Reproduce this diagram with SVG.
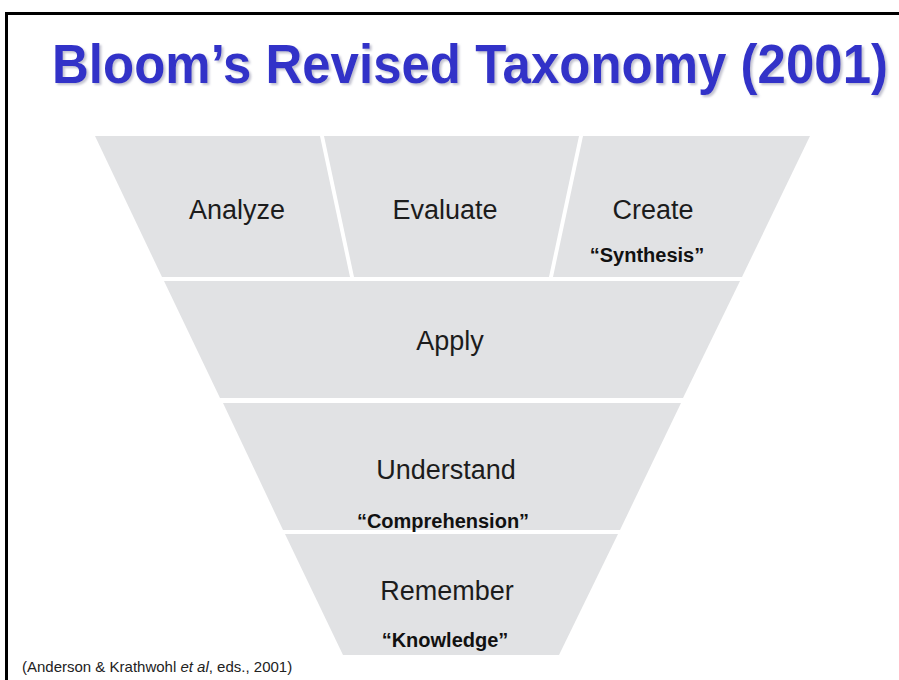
<svg xmlns="http://www.w3.org/2000/svg" width="899" height="680" viewBox="0 0 899 680">
<defs>
<filter id="shadow" x="-5%" y="-20%" width="110%" height="150%">
<feDropShadow dx="2" dy="2" stdDeviation="1" flood-color="#9a9ab0" flood-opacity="0.6"/>
</filter>
</defs>
<style>
.seg{fill:#e1e2e4}
.lbl{font-family:"Liberation Sans",Arial,Helvetica,sans-serif;font-size:27px;fill:#1c1c1c;text-anchor:middle}
.sub{font-family:"Liberation Sans",Arial,Helvetica,sans-serif;font-size:20px;font-weight:bold;fill:#111;text-anchor:middle}
.title{font-family:"Liberation Sans",Arial,Helvetica,sans-serif;font-size:55px;font-weight:bold}
</style>
<rect x="0" y="0" width="899" height="680" fill="#fff"/>
<rect x="6.5" y="13.5" width="900" height="700" fill="none" stroke="#000" stroke-width="3"/>
<g id="title">
<text class="title" x="52" y="83" fill="#3333c8" textLength="836" lengthAdjust="spacingAndGlyphs" filter="url(#shadow)">Bloom’s Revised Taxonomy (2001)</text>
</g>
<g id="analyze">
<polygon class="seg" points="95,136 320,136 350,277 162,277"/>
<text class="lbl" x="237" y="219">Analyze</text>
</g>
<g id="evaluate">
<polygon class="seg" points="324,136 579,136 549,277 354,277"/>
<text class="lbl" x="445" y="219">Evaluate</text>
</g>
<g id="create">
<polygon class="seg" points="583,136 810,136 742,277 553,277"/>
<text class="lbl" x="653" y="219">Create</text>
<text class="sub" x="647" y="262">“Synthesis”</text>
</g>
<g id="apply">
<polygon class="seg" points="164,281 740,281 683,398 220,398"/>
<text class="lbl" x="450" y="350">Apply</text>
</g>
<g id="understand">
<polygon class="seg" points="223,403 681,403 620,530 283,530"/>
<text class="lbl" x="446" y="479">Understand</text>
<text class="sub" x="443" y="528">“Comprehension”</text>
</g>
<g id="remember">
<polygon class="seg" points="285,534 618,534 559,655 343,655"/>
<text class="lbl" x="447" y="600">Remember</text>
<text class="sub" x="445" y="647">“Knowledge”</text>
</g>
<g id="connectors"/>
<g id="footer">
<text x="22" y="672" font-family="'Liberation Sans',Arial,sans-serif" font-size="15" fill="#222">(Anderson &amp; Krathwohl <tspan font-style="italic">et al</tspan>, eds., 2001)</text>
</g>
</svg>
